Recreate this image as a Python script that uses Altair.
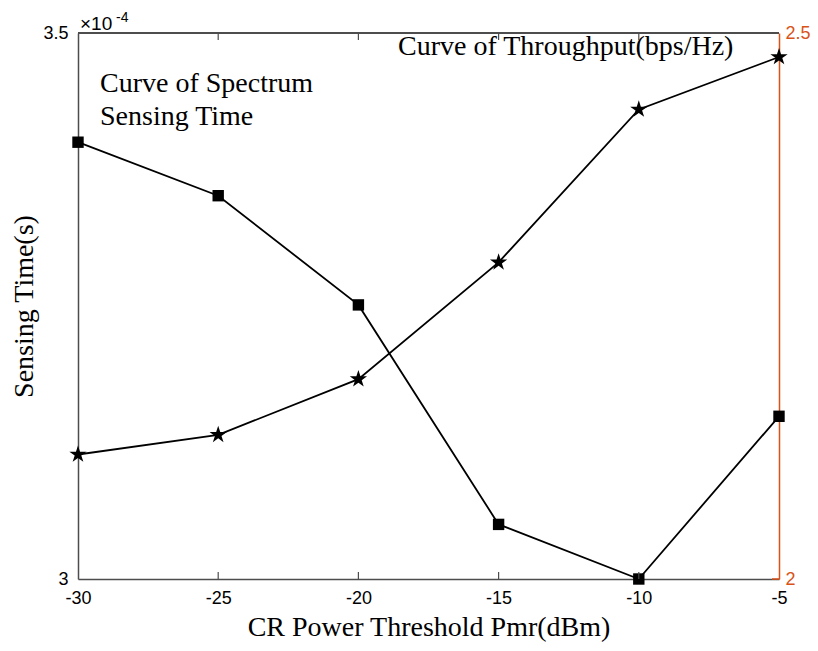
import altair as alt
import pandas as pd

# Data
power = [-30, -25, -20, -15, -10, -5]                     # CR power threshold (dBm)
sensing_time = [3.400, 3.351, 3.251, 3.050, 3.000, 3.149]  # x 1e-4 s
throughput = [2.114, 2.132, 2.183, 2.290, 2.430, 2.478]    # bps/Hz
x_ticks = [-30, -25, -20, -15, -10, -5]
left_ticks = [3.0, 3.5]
right_ticks = [2.0, 2.5]

W, H = 701, 546
ORANGE = "#D95319"
GRAY = "#4d4d4d"
SERIF = "Liberation Serif"
SANS = "Liberation Sans"

df1 = pd.DataFrame({"p": power, "t": sensing_time})
df2 = pd.DataFrame({"p": power, "r": throughput})
dft = pd.DataFrame({"p": x_ticks[1:-1]})
dfr = pd.DataFrame({"r": right_ticks})

xscale = alt.Scale(domain=[-30, -5], nice=False, zero=False)
xaxis = alt.Axis(values=x_ticks, labelExpr="datum.value + ''", title="CR Power Threshold Pmr(dBm)",
                 grid=False, ticks=False,
                 domainColor=GRAY, domainWidth=1.5, labelFont=SANS, labelFontSize=18,
                 labelColor="black", labelPadding=10, titleFont=SERIF, titleFontSize=28,
                 titleFontWeight="normal", titleColor="black", titlePadding=6, labelFlush=False)
X = alt.X("p:Q", scale=xscale, axis=xaxis)

star = "M0,-1L0.225,-0.309L0.951,-0.309L0.363,0.118L0.588,0.809L0,0.382L-0.588,0.809L-0.363,0.118L-0.951,-0.309L-0.225,-0.309Z"

yl = alt.Y("t:Q", scale=alt.Scale(domain=[3.0, 3.5], nice=False, zero=False),
           axis=alt.Axis(values=left_ticks, format="~g", title="Sensing Time(s)", grid=False, ticks=False,
                         domainColor=GRAY, domainWidth=1.5, labelFont=SANS, labelFontSize=18,
                         labelColor="black", labelPadding=10, titleFont=SERIF, titleFontSize=28,
                         titleFontWeight="normal", titleColor="black", titlePadding=4))
left = alt.layer(
    alt.Chart(df1).mark_line(color="black", strokeWidth=1.8).encode(x=X, y=yl),
    alt.Chart(df1).mark_point(shape="square", filled=True, color="black", size=130, opacity=1).encode(x=X, y=yl),
)

yr = alt.Y("r:Q", scale=alt.Scale(domain=[2.0, 2.5], nice=False, zero=False),
           axis=alt.Axis(orient="right", values=right_ticks, format="~g", title=None, grid=False, ticks=False,
                         domainColor=ORANGE, domainWidth=1.5, labelFont=SANS, labelFontSize=18,
                         labelColor=ORANGE, labelPadding=6))
right = alt.layer(
    alt.Chart(df2).mark_line(color="black", strokeWidth=1.8).encode(x=X, y=yr),
    alt.Chart(df2).mark_point(shape=star, filled=True, color="black", size=330, opacity=1).encode(x=X, y=yr),
    alt.Chart(dfr).mark_rule(color=ORANGE, strokeWidth=1.5).encode(
        y=alt.Y("r:Q"), x=alt.value(W - 7), x2=alt.value(W)),
)

# inward x ticks (bottom and top)
ticks_b = alt.Chart(dft).mark_rule(color=GRAY, strokeWidth=1.2).encode(
    x=alt.X("p:Q", scale=xscale), y=alt.value(H), y2=alt.value(H - 7))
ticks_t = alt.Chart(dft).mark_rule(color=GRAY, strokeWidth=1.2).encode(
    x=alt.X("p:Q", scale=xscale), y=alt.value(0), y2=alt.value(7))
topline = alt.Chart(dft).mark_rule(color=GRAY, strokeWidth=1.5).encode(
    x=alt.value(0), x2=alt.value(W), y=alt.value(0))

def label(txt, x, y, size=28, font=SERIF, color="black"):
    return alt.Chart(pd.DataFrame({"t": [txt]})).mark_text(
        text=txt, font=font, fontSize=size, align="left", baseline="alphabetic", color=color
    ).encode(x=alt.value(x), y=alt.value(y))

ann = [
    label("Curve of Spectrum", 22, 59),
    label("Sensing Time", 22, 92),
    label("Curve of Throughput(bps/Hz)", 320, 22),
    label("×10", 2, -3, size=19, font=SANS),
    label("-4", 38, -11, size=14, font=SANS),
]

chart = alt.layer(left, right, ticks_b, ticks_t, topline, *ann).resolve_scale(y="independent").properties(
    width=W, height=H,
    autosize=alt.AutoSizeParams(type="none"),
    padding={"left": 70, "top": 25, "right": 31, "bottom": 64},
).configure_view(stroke=None)

chart.save("out.html", embed_options={"renderer": "svg", "actions": False})
